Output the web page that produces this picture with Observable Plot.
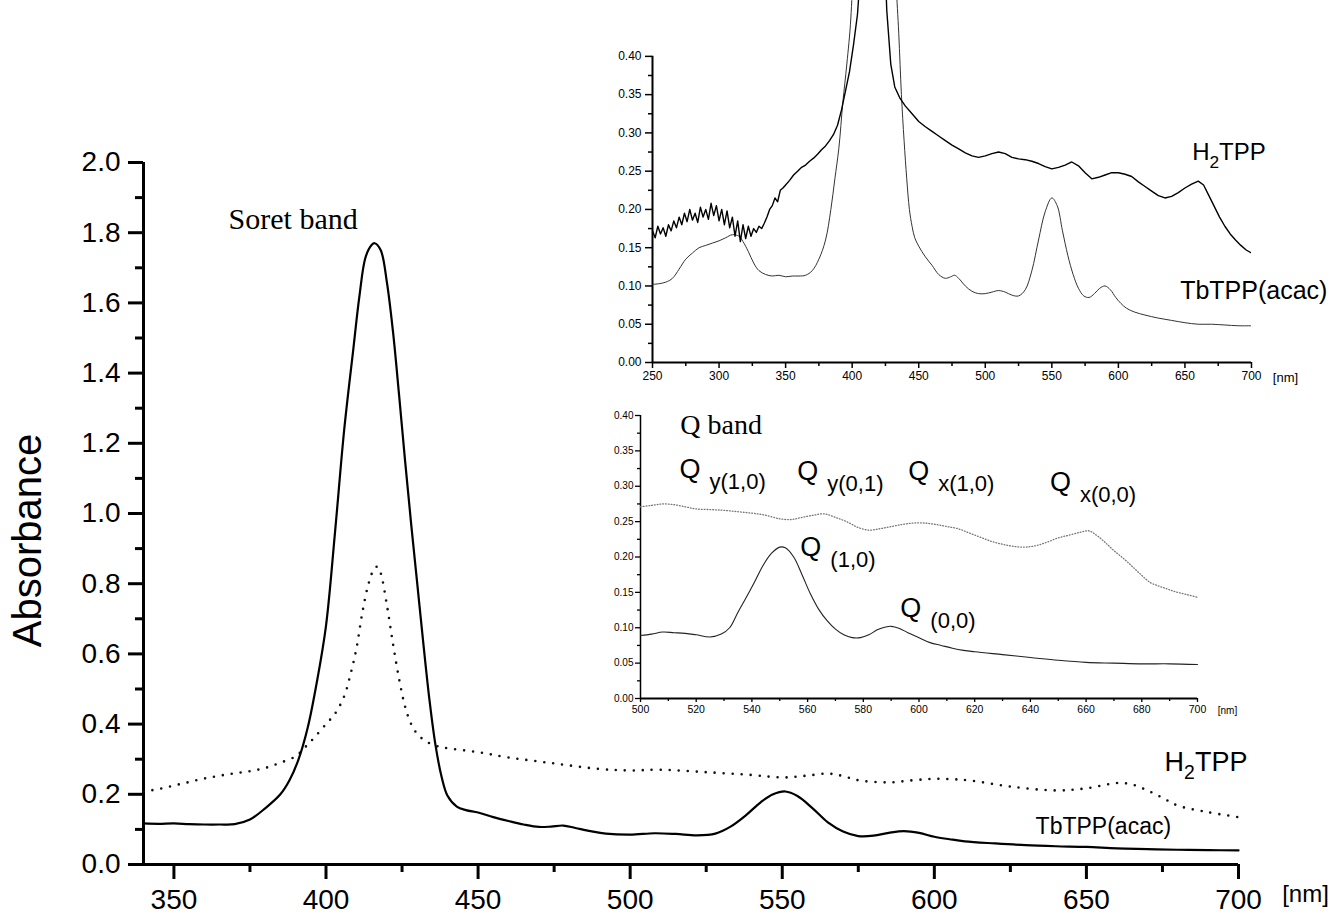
<!DOCTYPE html>
<html><head><meta charset="utf-8">
<script src="https://cdn.jsdelivr.net/npm/d3@7"></script>
<script src="https://cdn.jsdelivr.net/npm/@observablehq/plot@0.6"></script>
<style>
body{margin:0;background:#fff;}
#wrap{position:relative;width:1334px;height:918px;overflow:hidden;background:#fff;}
</style></head><body><div id="wrap"></div>
<script>
// ---------- Main panel data: [wavelength nm, absorbance] ----------
const mainTbTPP = [[340,0.117],[345,0.116],[350,0.117],[355,0.115],[360,0.114],[365,0.114],[370,0.115],[375,0.128],[380,0.16],[385,0.2],[388,0.24],[391,0.3],[394,0.39],[397,0.52],[400,0.68],[403,0.95],[406,1.24],[409,1.47],[411,1.62],[413,1.73],[415,1.765],[416,1.77],[418,1.75],[420,1.66],[422,1.52],[424,1.34],[426,1.15],[428,0.97],[430,0.80],[432,0.63],[434,0.47],[436,0.34],[438,0.25],[440,0.195],[443,0.165],[446,0.155],[450,0.148],[455,0.135],[460,0.124],[465,0.114],[470,0.107],[474,0.108],[478,0.111],[482,0.104],[487,0.095],[492,0.088],[500,0.085],[508,0.089],[515,0.087],[522,0.083],[528,0.088],[533,0.108],[538,0.14],[543,0.178],[547,0.2],[551,0.208],[555,0.195],[560,0.16],[565,0.12],[570,0.094],[575,0.081],[580,0.082],[585,0.09],[590,0.095],[595,0.09],[600,0.079],[605,0.072],[610,0.066],[620,0.06],[630,0.055],[640,0.052],[650,0.05],[660,0.046],[670,0.044],[680,0.042],[690,0.041],[700,0.04]];
const mainH2TPP = [[340,0.208],[345,0.215],[350,0.225],[355,0.235],[360,0.245],[365,0.253],[370,0.26],[375,0.266],[380,0.275],[385,0.29],[390,0.308],[393,0.333],[396,0.36],[400,0.40],[403,0.43],[406,0.48],[408,0.54],[410,0.615],[412,0.72],[414,0.8],[416,0.845],[417,0.848],[418,0.83],[420,0.74],[422,0.63],[424,0.53],[426,0.45],[428,0.4],[430,0.372],[433,0.35],[437,0.336],[441,0.33],[450,0.32],[460,0.305],[475,0.288],[490,0.272],[500,0.268],[510,0.27],[525,0.263],[540,0.255],[550,0.248],[558,0.253],[565,0.259],[570,0.252],[575,0.24],[585,0.234],[593,0.24],[600,0.244],[606,0.243],[612,0.239],[625,0.222],[640,0.211],[650,0.217],[660,0.232],[665,0.228],[670,0.211],[675,0.19],[680,0.168],[690,0.149],[700,0.135]];
const mainYTicks = [0,0.2,0.4,0.6,0.8,1.0,1.2,1.4,1.6,1.8,2.0];
const mainYMinor = [0.1,0.3,0.5,0.7,0.9,1.1,1.3,1.5,1.7,1.9];
const mainXTicks = [350,400,450,500,550,600,650,700];
const mainXMinor = [375,425,475,525,575,625,675];
const mainLabels = [
  {x: 389.2, y: 1.839, text: "Soret band", font: "serif", size: 30, anchor: "middle"},
  {x: 675.7, y: 0.29, text: "H2TPP", font: "sans", size: 27, anchor: "start"},
  {x: 633.3, y: 0.107, text: "TbTPP(acac)", font: "sans", size: 23, anchor: "start"}
];

// ---------- Inset 1 (full range) ----------
const inset1H2TPP = [[250,0.172],[252,0.163],[254,0.178],[256,0.168],[258,0.176],[260,0.165],[262,0.18],[264,0.172],[266,0.185],[268,0.176],[270,0.19],[272,0.18],[274,0.195],[276,0.184],[278,0.2],[280,0.186],[282,0.195],[284,0.183],[286,0.203],[288,0.19],[290,0.2],[292,0.187],[294,0.208],[296,0.192],[298,0.205],[300,0.185],[302,0.2],[304,0.18],[306,0.198],[308,0.176],[310,0.19],[312,0.165],[314,0.185],[316,0.158],[318,0.18],[320,0.162],[322,0.178],[324,0.165],[326,0.175],[328,0.17],[330,0.178],[332,0.175],[334,0.182],[336,0.19],[338,0.2],[340,0.205],[342,0.215],[344,0.21],[346,0.225],[348,0.228],[350,0.232],[353,0.238],[356,0.245],[359,0.25],[362,0.255],[365,0.258],[368,0.263],[371,0.267],[374,0.272],[377,0.278],[380,0.283],[383,0.29],[386,0.298],[389,0.31],[392,0.33],[395,0.355],[398,0.38],[401,0.415],[404,0.455],[407,0.53],[410,0.64],[414,0.8],[417,0.85],[420,0.75],[423,0.6],[426,0.46],[429,0.39],[432,0.36],[436,0.345],[440,0.335],[445,0.325],[450,0.315],[455,0.308],[460,0.302],[465,0.296],[470,0.29],[475,0.284],[480,0.279],[485,0.274],[490,0.27],[495,0.268],[500,0.27],[505,0.273],[510,0.275],[515,0.273],[520,0.268],[525,0.266],[530,0.265],[535,0.263],[540,0.26],[545,0.256],[550,0.253],[555,0.255],[560,0.258],[565,0.262],[570,0.257],[575,0.248],[580,0.24],[585,0.242],[590,0.245],[595,0.248],[600,0.248],[605,0.246],[610,0.243],[615,0.236],[620,0.23],[625,0.224],[630,0.218],[635,0.215],[640,0.217],[645,0.222],[650,0.228],[655,0.233],[660,0.237],[664,0.232],[668,0.218],[672,0.204],[676,0.19],[680,0.178],[684,0.168],[688,0.16],[692,0.153],[696,0.147],[700,0.143]];
const inset1TbTPP = [[250,0.102],[255,0.103],[260,0.105],[265,0.11],[270,0.122],[275,0.135],[280,0.143],[285,0.15],[290,0.153],[295,0.156],[300,0.159],[305,0.163],[310,0.167],[315,0.165],[318,0.158],[322,0.145],[326,0.13],[330,0.12],[335,0.115],[340,0.113],[345,0.114],[350,0.112],[355,0.113],[360,0.113],[365,0.114],[370,0.12],[375,0.135],[380,0.16],[384,0.2],[387,0.24],[390,0.28],[393,0.34],[396,0.39],[399,0.45],[402,0.6],[406,1.0],[410,1.5],[415,1.76],[420,1.65],[425,1.2],[430,0.75],[433,0.5],[435,0.43],[437,0.35],[439,0.29],[441,0.24],[443,0.2],[445,0.178],[447,0.163],[450,0.152],[455,0.138],[460,0.127],[465,0.115],[470,0.11],[474,0.112],[477,0.114],[480,0.11],[485,0.1],[490,0.093],[495,0.09],[500,0.09],[505,0.092],[510,0.094],[515,0.092],[520,0.088],[525,0.087],[530,0.095],[535,0.12],[540,0.16],[545,0.197],[550,0.215],[554,0.205],[558,0.172],[562,0.14],[566,0.115],[570,0.097],[574,0.087],[578,0.085],[582,0.09],[586,0.097],[590,0.1],[594,0.095],[598,0.085],[602,0.077],[606,0.071],[612,0.066],[620,0.062],[630,0.058],[640,0.055],[650,0.052],[660,0.05],[670,0.05],[680,0.049],[690,0.048],[700,0.048]];
const inset1YTicks = [0,0.05,0.10,0.15,0.20,0.25,0.30,0.35,0.40];
const inset1YMinor = [0.025,0.075,0.125,0.175,0.225,0.275,0.325,0.375];
const inset1XTicks = [250,300,350,400,450,500,550,600,650,700];
const inset1XMinor = [275,325,375,425,475,525,575,625,675];
const inset1Labels = [
  {x: 655.4, y: 0.274, text: "H2TPP", size: 24},
  {x: 646.4, y: 0.094, text: "TbTPP(acac)", size: 25}
];

// ---------- Inset 2 (Q band) ----------
const inset2H2TPP = [[500,0.271],[504,0.273],[508,0.275],[512,0.274],[516,0.271],[520,0.268],[525,0.267],[530,0.266],[535,0.264],[540,0.262],[545,0.259],[550,0.254],[554,0.253],[558,0.256],[562,0.259],[566,0.261],[570,0.256],[574,0.25],[578,0.242],[582,0.238],[586,0.24],[590,0.243],[594,0.246],[598,0.248],[602,0.248],[606,0.246],[610,0.243],[614,0.24],[618,0.234],[622,0.228],[626,0.222],[630,0.218],[634,0.215],[638,0.214],[642,0.216],[646,0.221],[650,0.227],[654,0.231],[658,0.235],[661,0.237],[664,0.23],[667,0.22],[670,0.209],[674,0.196],[677,0.185],[680,0.174],[683,0.164],[686,0.159],[689,0.155],[692,0.151],[696,0.147],[700,0.143]];
const inset2TbTPP = [[500,0.089],[504,0.091],[508,0.094],[512,0.093],[516,0.092],[520,0.09],[525,0.087],[529,0.091],[532,0.1],[535,0.122],[538,0.143],[541,0.165],[544,0.188],[547,0.205],[550,0.214],[552,0.213],[555,0.2],[558,0.175],[561,0.148],[564,0.126],[567,0.11],[570,0.098],[573,0.09],[576,0.086],[579,0.086],[582,0.09],[585,0.097],[588,0.101],[590,0.102],[593,0.099],[596,0.093],[600,0.086],[604,0.079],[608,0.075],[612,0.071],[616,0.068],[620,0.066],[630,0.062],[640,0.058],[650,0.054],[660,0.051],[670,0.05],[680,0.049],[690,0.049],[700,0.048]];
const inset2YTicks = [0,0.05,0.10,0.15,0.20,0.25,0.30,0.35,0.40];
const inset2YMinor = [0.025,0.075,0.125,0.175,0.225,0.275,0.325,0.375];
const inset2XTicks = [500,520,540,560,580,600,620,640,660,680,700];
const inset2XMinor = [510,530,550,570,590,610,630,650,670,690];
const qBandTitle = [{x: 514.3, y: 0.386, text: "Q band"}];
const qLabels = [
  {x: 514.0, y: 0.3245, sub: "y(1,0)"},
  {x: 556.3, y: 0.3217, sub: "y(0,1)"},
  {x: 596.1, y: 0.3217, sub: "x(1,0)"},
  {x: 647.0, y: 0.3061, sub: "x(0,0)"},
  {x: 557.4, y: 0.2143, sub: "(1,0)"},
  {x: 593.3, y: 0.1281, sub: "(0,0)"}
];
const nmUnit = "[nm]";

const SANS = "'Liberation Sans', Arial, Helvetica, sans-serif";
const SERIF = "'Liberation Serif', 'Times New Roman', serif";
const X = d => d[0], Y = d => d[1];
const blank = () => "";
const SMOOTH = "catmull-rom";

const wrap = document.getElementById("wrap");

// ---------- Main chart ----------
const main = Plot.plot({
  width: 1334, height: 918,
  marginTop: 162, marginBottom: 54, marginLeft: 143, marginRight: 96,
  x: {domain: [340, 700]},
  y: {domain: [0, 2]},
  style: {position: "absolute", left: "0px", top: "0px", background: "white", color: "black", fontFamily: SANS, overflow: "visible"},
  marks: [
    Plot.axisY({ticks: mainYTicks, tickSize: 15, tickPadding: 8, tickFormat: d3.format(".1f"), fontSize: 28, strokeWidth: 3, label: null}),
    Plot.axisY({ticks: mainYMinor, tickSize: 8, tickFormat: blank, strokeWidth: 3, label: null}),
    Plot.axisX({ticks: mainXTicks, tickSize: 15, tickPadding: 10, fontSize: 28, strokeWidth: 3, label: null}),
    Plot.axisX({ticks: mainXMinor, tickSize: 8, tickFormat: blank, strokeWidth: 3, label: null}),
    Plot.ruleX([340], {strokeWidth: 3}),
    Plot.ruleY([0], {strokeWidth: 3}),
    Plot.line(mainH2TPP, {x: X, y: Y, curve: SMOOTH, stroke: "#111", strokeWidth: 2.6, strokeDasharray: "0 9", strokeLinecap: "round"}),
    Plot.line(mainTbTPP, {x: X, y: Y, curve: SMOOTH, stroke: "#000", strokeWidth: 2.2}),
    Plot.text(mainLabels.filter(d => d.font === "serif"), {x: "x", y: "y", text: "text", fontSize: 30, fontFamily: SERIF, textAnchor: "middle"}),
    Plot.text(mainLabels.filter(d => d.text === "H2TPP"), {x: "x", y: "y", text: "text", fontSize: 27, textAnchor: "start"}),
    Plot.text(mainLabels.filter(d => d.text === "TbTPP(acac)"), {x: "x", y: "y", text: "text", fontSize: 23, textAnchor: "start"}),
    Plot.text(["Absorbance"], {frameAnchor: "left", rotate: -90, dx: -115, dy: 27, fontSize: 40, textAnchor: "middle"}),
    Plot.text([nmUnit], {x: () => 700, y: () => 0, text: d => d, dx: 67, dy: 30, fontSize: 24, textAnchor: "middle"})
  ]
});
wrap.appendChild(main);

// ---------- Inset 1 ----------
const inset1 = Plot.plot({
  width: 774, height: 400,
  marginTop: 0, marginBottom: 38, marginLeft: 92, marginRight: 83,
  x: {domain: [250, 700]},
  y: {domain: [0, 0.473]},
  style: {position: "absolute", left: "560px", top: "0px", background: "transparent", color: "black", fontFamily: SANS, overflow: "visible"},
  marks: [
    Plot.axisY({ticks: inset1YTicks, tickSize: 7, tickPadding: 4, tickFormat: d3.format(".2f"), fontSize: 12, strokeWidth: 1.5, label: null}),
    Plot.axisY({ticks: inset1YMinor, tickSize: 4, tickFormat: blank, strokeWidth: 1.5, label: null}),
    Plot.axisX({ticks: inset1XTicks, tickSize: 6, tickPadding: 3, fontSize: 12, strokeWidth: 1.5, label: null}),
    Plot.axisX({ticks: inset1XMinor, tickSize: 4, tickFormat: blank, strokeWidth: 1.5, label: null}),
    Plot.ruleX([250], {y1: 0, y2: 0.4, strokeWidth: 2}),
    Plot.ruleY([0], {strokeWidth: 2.2}),
    Plot.line(inset1TbTPP, {x: X, y: Y, curve: SMOOTH, stroke: "#333", strokeWidth: 1, clip: true}),
    Plot.line(inset1H2TPP, {x: X, y: Y, stroke: "#000", strokeWidth: 1.4, clip: true}),
    Plot.text(inset1Labels.slice(0, 1), {x: "x", y: "y", text: "text", fontSize: 24, textAnchor: "start"}),
    Plot.text(inset1Labels.slice(1), {x: "x", y: "y", text: "text", fontSize: 25, textAnchor: "start"}),
    Plot.text([nmUnit], {x: () => 700, y: () => 0, text: d => d, dx: 34, dy: 15, fontSize: 13, textAnchor: "middle"})
  ]
});
wrap.appendChild(inset1);

// ---------- Inset 2 ----------
const inset2 = Plot.plot({
  width: 774, height: 330,
  marginTop: 15, marginBottom: 32, marginLeft: 80, marginRight: 137,
  x: {domain: [500, 700]},
  y: {domain: [0, 0.4]},
  style: {position: "absolute", left: "560px", top: "400px", background: "transparent", color: "black", fontFamily: SANS, overflow: "visible"},
  marks: [
    Plot.axisY({ticks: inset2YTicks, tickSize: 5, tickPadding: 2, tickFormat: d3.format(".2f"), fontSize: 10, strokeWidth: 1.3, label: null}),
    Plot.axisY({ticks: inset2YMinor, tickSize: 3, tickFormat: blank, strokeWidth: 1.3, label: null}),
    Plot.axisX({ticks: inset2XTicks, tickSize: 4, tickPadding: 3, fontSize: 10.5, strokeWidth: 1.3, label: null}),
    Plot.axisX({ticks: inset2XMinor, tickSize: 3, tickFormat: blank, strokeWidth: 1.3, label: null}),
    Plot.ruleX([500], {strokeWidth: 1.5}),
    Plot.ruleY([0], {strokeWidth: 2}),
    Plot.line(inset2H2TPP, {x: X, y: Y, curve: SMOOTH, stroke: "#777", strokeWidth: 1.3, strokeDasharray: "0.8 2"}),
    Plot.line(inset2TbTPP, {x: X, y: Y, curve: SMOOTH, stroke: "#222", strokeWidth: 1.1}),
    Plot.text(qBandTitle, {x: "x", y: "y", text: "text", fontSize: 28, fontFamily: SERIF, textAnchor: "start"}),
    Plot.text(qLabels, {x: "x", y: "y", text: () => "Q", fontSize: 27, textAnchor: "start"}),
    Plot.text(qLabels, {x: "x", y: "y", text: "sub", fontSize: 22, textAnchor: "start", dx: 30, dy: 13}),
    Plot.text([nmUnit], {x: () => 700, y: () => 0, text: d => d, dx: 30, dy: 12, fontSize: 10, textAnchor: "middle"})
  ]
});
wrap.appendChild(inset2);

// subscript the "2" in H2TPP labels (kept as real text)
const NS = "http://www.w3.org/2000/svg";
wrap.querySelectorAll("text").forEach(t => {
  if (t.textContent === "H2TPP") {
    const fs = parseFloat(getComputedStyle(t).fontSize) || 24;
    while (t.firstChild) t.removeChild(t.firstChild);
    const a = document.createElementNS(NS, "tspan"); a.textContent = "H";
    const b = document.createElementNS(NS, "tspan"); b.textContent = "2";
    b.setAttribute("font-size", (fs * 0.72).toFixed(1));
    b.setAttribute("dy", (fs * 0.3).toFixed(1));
    const c = document.createElementNS(NS, "tspan"); c.textContent = "TPP";
    c.setAttribute("dy", (-fs * 0.3).toFixed(1));
    t.appendChild(a); t.appendChild(b); t.appendChild(c);
  }
});
</script></body></html>
